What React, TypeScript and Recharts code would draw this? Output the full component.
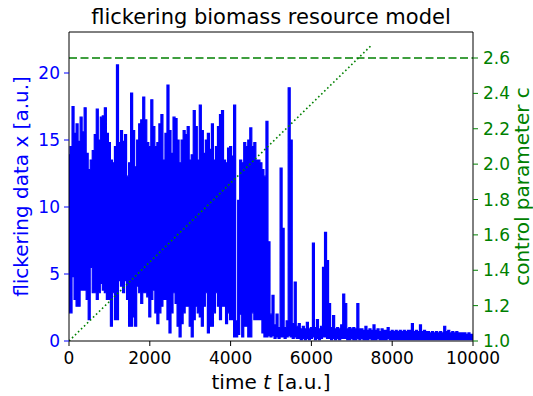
import { ComposedChart, Area, Line, XAxis, YAxis, ReferenceLine } from "recharts";

// flickering data x: the raw series is far denser than a pixel, so it is kept
// as the max and min of x inside each 50-unit time window (t = 0 .. 10000)
const WINDOW = 50;
const flickerMax = [
  13.9, 14.5, 17.5, 15.5, 16.2, 14.9, 16.7, 15.6, 17.4, 14.0,
  12.8, 13.5, 14.2, 15.4, 17.3, 15.0, 16.7, 16.8, 17.4, 15.5,
  14.8, 13.5, 13.3, 14.5, 20.6, 14.8, 15.7, 14.9, 15.4, 12.3,
  13.3, 18.5, 15.7, 13.0, 15.0, 16.2, 16.5, 18.2, 16.5, 14.8,
  14.5, 18.0, 16.0, 14.5, 14.8, 16.2, 16.9, 13.5, 15.5, 19.1,
  15.7, 14.0, 16.7, 16.6, 15.0, 13.3, 15.0, 15.7, 15.4, 16.0,
  13.5, 13.9, 17.2, 16.0, 13.5, 17.6, 15.7, 14.0, 15.0, 15.5,
  14.3, 16.2, 13.5, 14.5, 16.0, 16.9, 17.2, 13.5, 13.3, 14.4,
  14.5, 13.8, 17.6, 1.5, 10.5, 13.5, 13.3, 14.8, 14.5, 15.0,
  15.9, 14.5, 14.8, 13.5, 13.5, 13.3, 12.8, 12.3, 16.4, 7.4,
  2.0, 3.4, 1.2, 2.0, 1.0, 12.9, 8.4, 1.0, 1.5, 18.9,
  15.0, 1.3, 4.4, 1.1, 1.3, 0.9, 1.1, 0.9, 1.4, 0.9,
  1.0, 7.3, 1.0, 1.6, 0.9, 1.1, 5.5, 8.1, 6.0, 2.8,
  1.0, 1.9, 0.9, 1.0, 0.9, 1.2, 3.5, 2.8, 0.9, 1.0,
  0.9, 1.0, 0.9, 2.8, 0.9, 0.9, 0.8, 1.1, 0.8, 0.9,
  0.8, 1.2, 0.8, 0.9, 0.7, 0.9, 0.8, 0.8, 1.0, 0.7,
  0.8, 0.7, 0.8, 0.7, 0.8, 0.7, 0.8, 0.7, 0.8, 0.8,
  1.3, 0.7, 0.8, 0.7, 1.2, 0.7, 0.8, 0.7, 0.7, 0.6,
  0.7, 0.6, 0.7, 0.6, 0.7, 0.6, 1.1, 0.7, 0.8, 0.6,
  0.7, 0.6, 0.7, 0.6, 0.6, 0.6, 0.6, 0.5, 0.6, 0.5,
  0.5,
];
const flickerMin = [
  2.1, 2.1, 4.8, 3.1, 2.6, 2.6, 3.8, 3.8, 3.8, 3.1,
  1.6, 5.5, 3.6, 3.6, 3.1, 3.6, 4.3, 3.8, 3.6, 3.1,
  3.1, 1.1, 3.6, 1.6, 1.6, 4.5, 4.1, 3.6, 4.5, 3.1,
  1.1, 1.1, 1.8, 1.1, 4.1, 3.6, 2.8, 3.6, 3.6, 3.3,
  1.8, 3.1, 3.8, 2.1, 1.3, 2.1, 2.6, 3.1, 3.1, 1.6,
  0.6, 2.1, 3.6, 2.8, 1.1, 0.3, 1.3, 2.1, 2.6, 2.6,
  1.1, 0.3, 1.6, 2.6, 2.1, 1.8, 1.1, 2.6, 3.6, 0.6,
  1.1, 1.1, 2.1, 3.6, 2.6, 1.6, 2.6, 2.6, 1.3, 2.1,
  1.6, 1.6, 0.3, 0.3, 0.5, 2.0, 0.3, 1.1, 1.1, 0.3,
  0.3, 2.1, 1.6, 1.6, 1.6, 1.6, 0.6, 0.3, 0.3, 0.4,
  0.3, 0.4, 0.2, 0.3, 0.2, 0.3, 0.3, 0.2, 0.3, 0.4,
  0.3, 0.2, 0.3, 0.2, 0.2, 0.1, 0.2, 0.1, 0.2, 0.1,
  0.2, 0.3, 0.1, 0.2, 0.1, 0.2, 0.3, 0.3, 0.2, 0.2,
  0.1, 0.2, 0.1, 0.2, 0.1, 0.2, 0.2, 0.2, 0.1, 0.1,
  0.2, 0.1, 0.1, 0.2, 0.1, 0.2, 0.1, 0.1, 0.1, 0.2,
  0.1, 0.1, 0.1, 0.2, 0.1, 0.1, 0.1, 0.1, 0.2, 0.1,
  0.1, 0.1, 0.1, 0.1, 0.1, 0.1, 0.1, 0.1, 0.1, 0.1,
  0.1, 0.1, 0.1, 0.1, 0.1, 0.1, 0.1, 0.1, 0.1, 0.1,
  0.1, 0.1, 0.1, 0.1, 0.1, 0.1, 0.1, 0.1, 0.1, 0.1,
  0.1, 0.1, 0.1, 0.1, 0.1, 0.1, 0.1, 0.1, 0.1, 0.1,
  0.1,
];

// control parameter c: linear ramp, and the critical value
const rampTimes = [0, 7500];
const rampValues = [1.0, 2.675];
const criticalTimes = [0, 10000];
const criticalValues = [2.6, 2.6];

const xTicks = [0, 2000, 4000, 6000, 8000, 10000];
const leftTicks = [0, 5, 10, 15, 20];
const rightTicks = [1.0, 1.2, 1.4, 1.6, 1.8, 2.0, 2.2, 2.4, 2.6];

const BLUE = "#0000ff";
const GREEN = "#008000";
const FONT = "DejaVu Sans, sans-serif";

const flickerData = flickerMax.map((hi, i) => ({
  t: i * WINDOW,
  x: [flickerMin[i], hi],
}));
const rampData = rampTimes.map((t, i) => ({ t, c: rampValues[i] }));
const criticalData = criticalTimes.map((t, i) => ({ t, c: criticalValues[i] }));

export default function App() {
  return (
    <div style={{ position: "relative", width: 533, height: 396, fontFamily: FONT }}>
      <style>{"body{margin:0}"}</style>
      <ComposedChart
        width={533}
        height={396}
        data={flickerData}
        margin={{ top: 32, right: 0, bottom: 0, left: 0 }}
      >
        <XAxis
          dataKey="t"
          type="number"
          domain={[0, 10000]}
          ticks={xTicks}
          allowDataOverflow
          height={55}
          stroke="#000"
          tickSize={5}
          tickMargin={6}
          tick={{ fill: "#000", fontSize: 17, fontFamily: FONT }}
        />
        <YAxis
          yAxisId="left"
          domain={[0, 23.06]}
          ticks={leftTicks}
          allowDataOverflow
          width={69}
          tickSize={5}
          tickMargin={4}
          axisLine={{ stroke: "#000" }}
          tickLine={{ stroke: BLUE }}
          tick={{ fill: BLUE, fontSize: 17, fontFamily: FONT }}
        />
        <YAxis
          yAxisId="right"
          orientation="right"
          domain={[1.0, 2.747]}
          ticks={rightTicks}
          allowDataOverflow
          width={60}
          tickSize={5}
          tickMargin={5}
          axisLine={{ stroke: "#000" }}
          tickLine={{ stroke: GREEN }}
          tickFormatter={(v: number) => v.toFixed(1)}
          tick={{ fill: GREEN, fontSize: 17, fontFamily: FONT }}
        />
        <ReferenceLine yAxisId="left" y={23.06} stroke="#000" />
        <Area
          yAxisId="left"
          dataKey="x"
          type="step"
          stroke={BLUE}
          strokeWidth={1.2}
          fill={BLUE}
          fillOpacity={1}
          dot={false}
          activeDot={false}
          isAnimationActive={false}
        />
        <Line
          yAxisId="right"
          data={criticalData}
          dataKey="c"
          type="linear"
          stroke={GREEN}
          strokeWidth={1.6}
          strokeDasharray="8 3.5"
          dot={false}
          isAnimationActive={false}
        />
        <Line
          yAxisId="right"
          data={rampData}
          dataKey="c"
          type="linear"
          stroke={GREEN}
          strokeWidth={1.6}
          strokeDasharray="1.6 2.6"
          dot={false}
          isAnimationActive={false}
        />
      </ComposedChart>
      <svg
        width={533}
        height={396}
        style={{ position: "absolute", left: 0, top: 0, pointerEvents: "none" }}
        fontFamily={FONT}
      >
        <text x={271} y={24} textAnchor="middle" fontSize={21} fill="#000">
          flickering biomass resource model
        </text>
        <text x={271} y={389} textAnchor="middle" fontSize={20} fill="#000">
          time <tspan fontStyle="italic">t</tspan> [a.u.]
        </text>
        <text
          transform="translate(28,186.5) rotate(-90)"
          textAnchor="middle"
          fontSize={20}
          fill={BLUE}
        >
          flickering data x [a.u.]
        </text>
        <text
          transform="translate(529,186.5) rotate(-90)"
          textAnchor="middle"
          fontSize={20}
          fill={GREEN}
        >
          control parameter c
        </text>
      </svg>
    </div>
  );
}
